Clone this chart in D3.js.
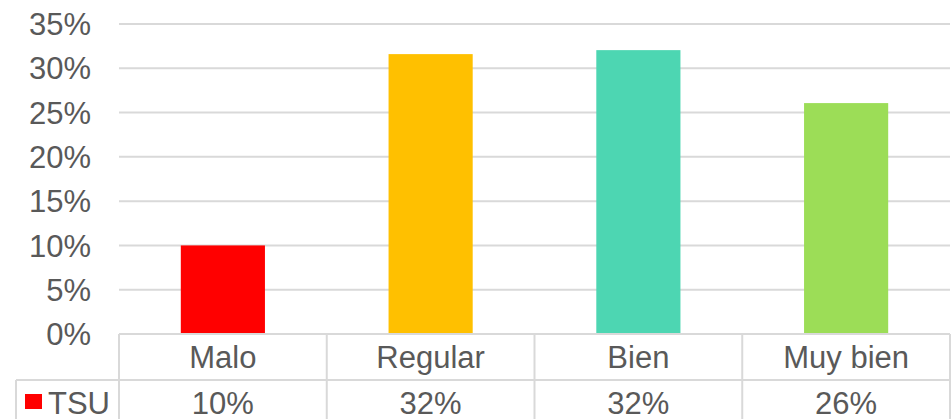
<!DOCTYPE html>
<html>

<head>
    <meta charset='utf-8'>
</head>
<style>
    body {
        margin: 0;
        background: #fff;
    }

    text {
        font-family: "Liberation Sans", Arial, sans-serif;
        font-size: 31px;
        fill: #595959;
    }

    .grid line,
    .tbl line {
        stroke: #d9d9d9;
        stroke-width: 2px;
    }
</style>

<body>
    <div id='chart'></div>
    <script src="https://d3js.org/d3.v7.min.js"></script>
    <script>
        var categories = ['Malo', 'Regular', 'Bien', 'Muy bien'];
        var values = [0.10, 0.316, 0.3205, 0.2607];
        var colors = ['#ff0000', '#ffc000', '#4dd6b2', '#9cdd57'];
        var seriesName = 'TSU';
        var yTicks = [0, 0.05, 0.10, 0.15, 0.20, 0.25, 0.30, 0.35];

        var width = 951;
        var height = 419;
        // note: "top" is a reserved window property, so use plot* names
        var plotLeft = 119, plotRight = 950, plotTop = 24, plotBottom = 334;
        var rowH = 46;

        var svg = d3.select('#chart').append('svg')
            .attr('width', width)
            .attr('height', height);

        var x = d3.scaleBand()
            .domain(categories)
            .range([plotLeft, plotRight])
            .paddingInner(0.595)
            .paddingOuter(0.2975);

        var y = d3.scaleLinear()
            .domain([0, 0.35])
            .range([plotBottom, plotTop]);

        // gridlines
        svg.append('g').attr('class', 'grid')
            .selectAll('line')
            .data(yTicks.slice(1))
            .enter().append('line')
            .attr('x1', plotLeft).attr('x2', plotRight)
            .attr('y1', function(d) { return y(d); })
            .attr('y2', function(d) { return y(d); });

        // y labels
        svg.append('g')
            .selectAll('text')
            .data(yTicks)
            .enter().append('text')
            .attr('x', 91)
            .attr('y', function(d) { return y(d); })
            .attr('dy', '0.36em')
            .attr('text-anchor', 'end')
            .text(d3.format('.0%'));

        // bars
        svg.append('g')
            .selectAll('rect')
            .data(values)
            .enter().append('rect')
            .attr('x', function(d, i) { return x(categories[i]); })
            .attr('width', x.bandwidth())
            .attr('y', function(d) { return y(d); })
            .attr('height', function(d) { return y(0) - y(d); })
            .attr('fill', function(d, i) { return colors[i]; });

        // data table
        var tbl = svg.append('g').attr('class', 'tbl');
        var step = x.step();
        var colEdges = categories.map(function(c) { return x(c) - x.paddingOuter() * step; });
        colEdges.push(plotRight);

        tbl.append('line').attr('x1', plotLeft).attr('x2', plotRight).attr('y1', plotBottom).attr('y2', plotBottom);
        tbl.append('line').attr('x1', 16).attr('x2', plotRight).attr('y1', plotBottom + rowH).attr('y2', plotBottom + rowH);
        tbl.append('line').attr('x1', 16).attr('x2', 16).attr('y1', plotBottom + rowH).attr('y2', height + 10);
        tbl.selectAll('.v').data(colEdges)
            .enter().append('line')
            .attr('class', 'v')
            .attr('x1', function(d) { return d; })
            .attr('x2', function(d) { return d; })
            .attr('y1', plotBottom)
            .attr('y2', height + 10);

        svg.append('g').selectAll('text')
            .data(categories)
            .enter().append('text')
            .attr('x', function(d) { return x(d) + x.bandwidth() / 2; })
            .attr('y', plotBottom + rowH / 2)
            .attr('dy', '0.36em')
            .attr('text-anchor', 'middle')
            .text(function(d) { return d; });

        svg.append('g').selectAll('text')
            .data(values)
            .enter().append('text')
            .attr('x', function(d, i) { return x(categories[i]) + x.bandwidth() / 2; })
            .attr('y', plotBottom + rowH * 1.5)
            .attr('dy', '0.36em')
            .attr('text-anchor', 'middle')
            .text(d3.format('.0%'));

        // legend key
        svg.append('rect')
            .attr('x', 25).attr('y', 394)
            .attr('width', 17).attr('height', 15)
            .attr('fill', colors[0]);
        svg.append('text')
            .attr('x', 48)
            .attr('y', plotBottom + rowH * 1.5)
            .attr('dy', '0.36em')
            .text(seriesName);
    </script>
</body>

</html>
